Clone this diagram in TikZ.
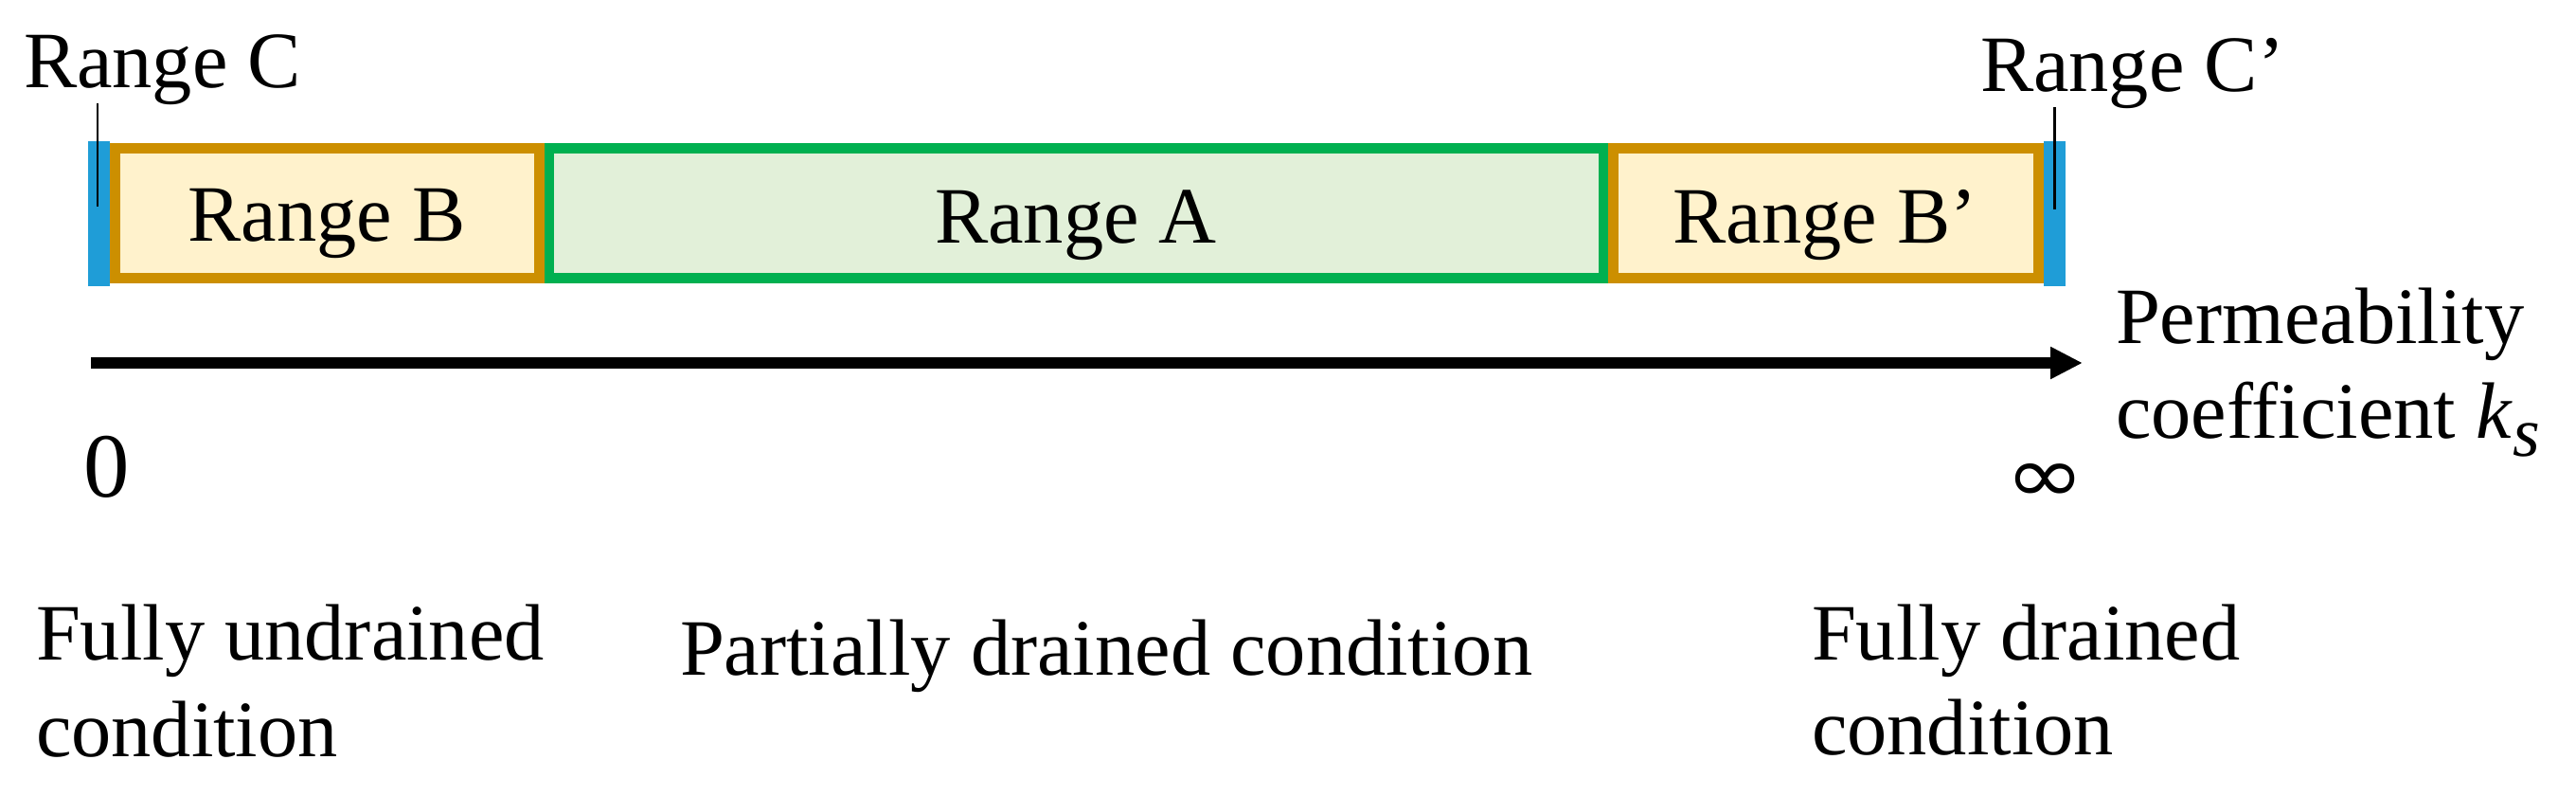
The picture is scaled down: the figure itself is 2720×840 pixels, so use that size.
\documentclass[tikz,border=0pt]{standalone}
\usepackage{fontspec}
\setmainfont{Liberation Serif}
\newfontfamily\symfont{DejaVu Sans}
\usetikzlibrary{arrows.meta}
\definecolor{cblue}{RGB}{31,157,215}
\definecolor{corange}{RGB}{204,143,0}
\definecolor{cofill}{RGB}{255,242,204}
\definecolor{cgreen}{RGB}{0,176,80}
\definecolor{cgfill}{RGB}{226,240,217}
\tikzset{
  lbl/.style={font=\fontsize{24}{28}\selectfont, inner sep=0pt, outer sep=0pt},
  bbox/.style={draw=corange, fill=cofill, line width=3.13pt, inner sep=0pt, outer sep=0pt, minimum height=1.36cm},
  abox/.style={draw=cgreen, fill=cgfill, line width=3.13pt, inner sep=0pt, outer sep=0pt, minimum height=1.36cm},
  cbar/.style={fill=cblue, draw=none, inner sep=0pt, outer sep=0pt, minimum width=0.23cm, minimum height=1.53cm},
  leader/.style={line width=0.85pt, black},
  axis/.style={line width=3.4pt, -{Triangle[length=0.34cm, width=0.32cm]}}
}
\begin{document}
\begin{tikzpicture}[x=0.01cm, y=-0.01cm]
\useasboundingbox (0,0) rectangle (2720,840);
% boxes
\node[abox, minimum width=11.14cm] (A) at (1136.5,225) {};
\node[bbox, minimum width=4.48cm] (B) at (345.5,225) {};
\node[bbox, minimum width=4.49cm] (Bp) at (1928,225) {};
\node[cbar] (C) at (104.5,225.5) {};
\node[cbar] (Cp) at (2169.5,225.5) {};
% labels in boxes
\node[lbl, anchor=base] (Blbl) at (345,255) {Range B};
\node[lbl, anchor=base] (Albl) at (1136,257) {Range A};
\node[lbl, anchor=base] (Bplbl) at (1927,257) {Range B’};
% range C labels
\node[lbl, anchor=base west] (Clbl) at (25,93) {Range C};
\node[lbl, anchor=base west] (Cplbl) at (2091,97) {Range C’};
\coordinate (c1) at (103,109);
\coordinate (c2) at (103,218);
\coordinate (cp1) at (2169,113);
\coordinate (cp2) at (2169,221);
\draw[leader] (c1) -- (c2);
\draw[leader] (cp1) -- (cp2);
% axis
\coordinate (a0) at (96,383);
\coordinate (a1) at (2199,383);
\draw[axis] (a0) -- (a1);
\node[lbl, anchor=base west] (perm1) at (2234,363) {Permeability};
\node[lbl, anchor=base west] (perm2) at (2234,463) {coefficient \textit{k}\raisebox{-0.18cm}{\fontsize{21}{21}\selectfont\itshape s}};
\node[lbl, font=\fontsize{27.5}{30}\selectfont, anchor=base] (zero) at (113,525) {0};
\node[inner sep=0pt, outer sep=0pt] (inf) at (2160,510) {\resizebox{0.84cm}{0.41cm}{\symfont ∞}};
% conditions
\node[lbl, anchor=base west] (fu1) at (38,697) {Fully undrained};
\node[lbl, anchor=base west] (fu2) at (38,798) {condition};
\node[lbl, anchor=base west] (pd) at (718,712) {Partially drained condition};
\node[lbl, anchor=base west] (fd1) at (1913,697) {Fully drained};
\node[lbl, anchor=base west] (fd2) at (1913,797) {condition};
\end{tikzpicture}
\end{document}
